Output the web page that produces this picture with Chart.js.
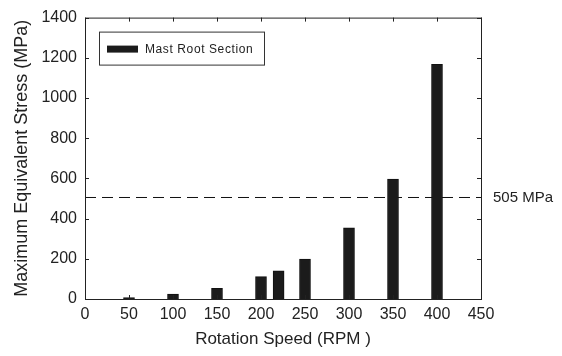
<!DOCTYPE html>
<html>
<head>
<meta charset="utf-8">
<script src="https://cdn.jsdelivr.net/npm/chart.js@4/dist/chart.umd.min.js"></script>
<style>
  body { margin: 0; background: #fff; }
</style>
</head>
<body>
<canvas id="myChart" width="562" height="356"></canvas>
<script>
var rpmValues = [50, 100, 150, 200, 220, 250, 300, 350, 400];
var stressValues = [7, 24, 53, 111, 140, 199, 354, 597, 1168];
var limitValue = 505;
var limitLabel = "505 MPa";
var seriesName = "Mast Root Section";
var xTicks = [0, 50, 100, 150, 200, 250, 300, 350, 400, 450];
var yTicks = [0, 200, 400, 600, 800, 1000, 1200, 1400];

var fontName = "'Liberation Sans', Arial, sans-serif";

// box, inward ticks, legend and limit label
var framePlugin = {
  id: "frame",
  afterDatasetsDraw: function(chart) {
    var ctx = chart.ctx;
    var a = chart.chartArea;
    var xs = chart.scales.x;
    var ys = chart.scales.y;
    ctx.save();
    ctx.strokeStyle = "#222";
    ctx.lineWidth = 1;
    ctx.strokeRect(a.left + 0.5, a.top + 0.5, a.right - a.left, a.bottom - a.top);

    ctx.beginPath();
    xTicks.forEach(function(v) {
      var px = Math.round(xs.getPixelForValue(v)) + 0.5;
      ctx.moveTo(px, a.bottom);
      ctx.lineTo(px, a.bottom - 4);
      ctx.moveTo(px, a.top);
      ctx.lineTo(px, a.top + 4);
    });
    yTicks.forEach(function(v) {
      var py = Math.round(ys.getPixelForValue(v)) + 0.5;
      ctx.moveTo(a.left, py);
      ctx.lineTo(a.left + 4, py);
      ctx.moveTo(a.right, py);
      ctx.lineTo(a.right - 4, py);
    });
    ctx.stroke();

    // legend
    var lx = a.left + 14, ly = a.top + 14;
    ctx.strokeStyle = "#333";
    ctx.strokeRect(lx + 0.5, ly + 0.5, 165, 33);
    ctx.fillStyle = "#1b1b1b";
    ctx.fillRect(lx + 8, ly + 14, 31, 7);
    ctx.fillStyle = "#222";
    ctx.font = "12px " + fontName;
    ctx.textBaseline = "middle";
    ctx.textAlign = "left";
    ctx.letterSpacing = "0.6px";
    ctx.fillText(seriesName, lx + 46, ly + 18);
    ctx.letterSpacing = "0px";

    // limit label
    ctx.font = "15px " + fontName;
    ctx.fillText(limitLabel, a.right + 12, ys.getPixelForValue(limitValue));
    ctx.restore();
  }
};

new Chart("myChart", {
  type: "bar",
  data: {
    datasets: [{
      label: seriesName,
      data: rpmValues.map(function(x, i) { return {x: x, y: stressValues[i]}; }),
      backgroundColor: "#1b1b1b",
      borderColor: "#111",
      borderWidth: 1,
      barThickness: 11
    }, {
      type: "line",
      label: limitLabel,
      data: [{x: xTicks[0], y: limitValue}, {x: xTicks[xTicks.length - 1], y: limitValue}],
      borderColor: "#111",
      borderWidth: 1,
      borderDash: [11, 6],
      pointRadius: 0,
      fill: false
    }]
  },
  options: {
    responsive: false,
    animation: false,
    layout: {padding: {top: 13, right: 81, left: 0, bottom: 0}},
    plugins: {
      legend: {display: false},
      tooltip: {enabled: false}
    },
    scales: {
      x: {
        type: "linear",
        min: 0,
        max: 450,
        offset: false,
        grid: {display: false, drawTicks: false},
        border: {display: false},
        ticks: {stepSize: 50, color: "#222", padding: 6, font: {family: fontName, size: 16}, maxRotation: 0,
          callback: function(v) { return String(v); }},
        title: {display: true, text: "Rotation Speed (RPM )", color: "#222", padding: {top: 0, bottom: 6}, font: {family: fontName, size: 17}},
        afterFit: function(s) { s.height = 57; }
      },
      y: {
        min: 0,
        max: 1400,
        grid: {display: false, drawTicks: false},
        border: {display: false},
        ticks: {stepSize: 200, color: "#222", padding: 8, font: {family: fontName, size: 16},
          callback: function(v) { return String(v); }},
        title: {display: true, text: "Maximum Equivalent Stress (MPa)", color: "#222", padding: {top: 11, bottom: 0}, font: {family: fontName, size: 18}},
        afterFit: function(s) { s.width = 85; }
      }
    }
  },
  plugins: [framePlugin]
});
</script>
</body>
</html>
